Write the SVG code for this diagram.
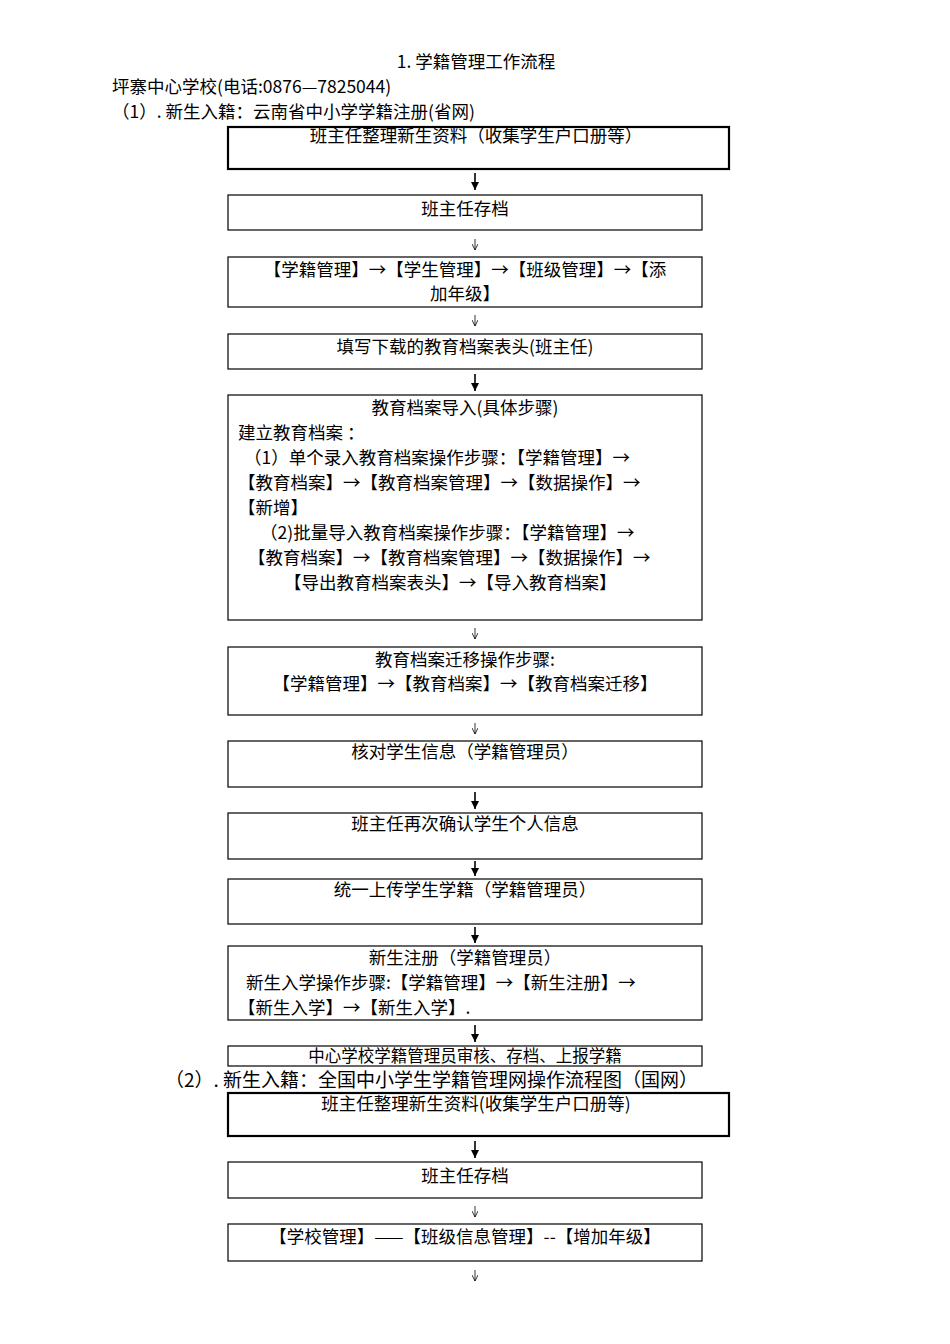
<svg xmlns="http://www.w3.org/2000/svg" width="950" height="1344" viewBox="0 0 950 1344">
<style>
text{font-family:"Noto Sans CJK SC","Liberation Serif",serif;font-size:17.5px;fill:#000}
.c{text-anchor:middle}
.b{fill:#fff;stroke:#000;stroke-width:1.2}
.t{fill:#fff;stroke:#000;stroke-width:2.2}
.a{stroke:#000;stroke-width:1.6;marker-end:url(#m)}
.s{stroke:#000;stroke-width:0.8;marker-end:url(#n)}
</style>
<defs>
<marker id="m" markerWidth="8" markerHeight="8" refX="8" refY="4" orient="auto" markerUnits="userSpaceOnUse"><path d="M0,0 L8,4 L0,8 Z" fill="#000"/></marker>
<marker id="n" markerWidth="6" markerHeight="6" refX="6" refY="3" orient="auto" markerUnits="userSpaceOnUse"><path d="M0,0 L6,3 L0,6" fill="none" stroke="#000" stroke-width="0.8"/></marker>
</defs>
<text class="c" x="476" y="68">1. 学籍管理工作流程</text>
<text x="112" y="93">坪寨中心学校(电话:0876—7825044)</text>
<text x="112" y="118">（1）. 新生入籍：云南省中小学学籍注册(省网)</text>
<g id="n1"><rect class="t" x="228" y="127" width="501" height="42"/><text class="c" x="476" y="142">班主任整理新生资料（收集学生户口册等）</text></g>
<g id="n2"><rect class="b" x="228" y="195" width="474" height="35"/><text class="c" x="465" y="215">班主任存档</text></g>
<g id="n3"><rect class="b" x="228" y="257" width="474" height="50"/><text class="c" x="465" y="276">【学籍管理】→【学生管理】→【班级管理】→【添</text><text class="c" x="465" y="300">加年级】</text></g>
<g id="n4"><rect class="b" x="228" y="334" width="474" height="35"/><text class="c" x="465" y="353">填写下载的教育档案表头(班主任)</text></g>
<g id="n5"><rect class="b" x="228" y="395" width="474" height="225"/>
<text class="c" x="465" y="414">教育档案导入(具体步骤)</text>
<text x="238" y="439">建立教育档案 ：</text>
<text x="244" y="464">（1）单个录入教育档案操作步骤：【学籍管理】→</text>
<text x="238" y="489">【教育档案】→【教育档案管理】→【数据操作】→</text>
<text x="238" y="514">【新增】</text>
<text x="260" y="539">（2)批量导入教育档案操作步骤：【学籍管理】→</text>
<text x="248" y="564">【教育档案】→【教育档案管理】→【数据操作】→</text>
<text x="284" y="589">【导出教育档案表头】→【导入教育档案】</text></g>
<g id="n6"><rect class="b" x="228" y="647" width="474" height="68"/><text class="c" x="465" y="666">教育档案迁移操作步骤:</text><text class="c" x="465" y="690">【学籍管理】→【教育档案】→【教育档案迁移】</text></g>
<g id="n7"><rect class="b" x="228" y="741" width="474" height="46"/><text class="c" x="465" y="758">核对学生信息（学籍管理员）</text></g>
<g id="n8"><rect class="b" x="228" y="813" width="474" height="46"/><text class="c" x="465" y="830">班主任再次确认学生个人信息</text></g>
<g id="n9"><rect class="b" x="228" y="879" width="474" height="45"/><text class="c" x="465" y="896">统一上传学生学籍（学籍管理员）</text></g>
<g id="n10"><rect class="b" x="228" y="946" width="474" height="74"/><text class="c" x="465" y="964">新生注册（学籍管理员）</text><text x="246" y="989">新生入学操作步骤:【学籍管理】→【新生注册】→</text><text x="238" y="1014">【新生入学】→【新生入学】.</text></g>
<g id="n11"><rect class="b" x="228" y="1046" width="474" height="20"/><text class="c" x="465" y="1062" style="font-size:16.5px">中心学校学籍管理员审核、存档、上报学籍</text></g>
<text x="165" y="1087" style="font-size:19px">（2）. 新生入籍：全国中小学生学籍管理网操作流程图（国网）</text>
<g id="n12"><rect class="t" x="228" y="1093" width="501" height="43"/><text class="c" x="476" y="1110">班主任整理新生资料(收集学生户口册等)</text></g>
<g id="n13"><rect class="b" x="228" y="1162" width="474" height="36"/><text class="c" x="465" y="1182">班主任存档</text></g>
<g id="n14"><rect class="b" x="228" y="1224" width="474" height="37"/><text class="c" x="465" y="1243">【学校管理】——【班级信息管理】--【增加年级】</text></g>
<g id="connectors">
<line class="a" x1="475" y1="173" x2="475" y2="190"/>
<line class="s" x1="475" y1="239" x2="475" y2="250"/>
<line class="s" x1="475" y1="315" x2="475" y2="326"/>
<line class="a" x1="475" y1="374" x2="475" y2="391"/>
<line class="s" x1="475" y1="628" x2="475" y2="639"/>
<line class="s" x1="475" y1="723" x2="475" y2="734"/>
<line class="a" x1="475" y1="792" x2="475" y2="809"/>
<line class="a" x1="475" y1="861" x2="475" y2="876"/>
<line class="a" x1="475" y1="927" x2="475" y2="943"/>
<line class="a" x1="475" y1="1025" x2="475" y2="1042"/>
<line class="a" x1="475" y1="1141" x2="475" y2="1158"/>
<line class="s" x1="475" y1="1206" x2="475" y2="1217"/>
<line class="s" x1="475" y1="1270" x2="475" y2="1281"/>
</g>
</svg>
